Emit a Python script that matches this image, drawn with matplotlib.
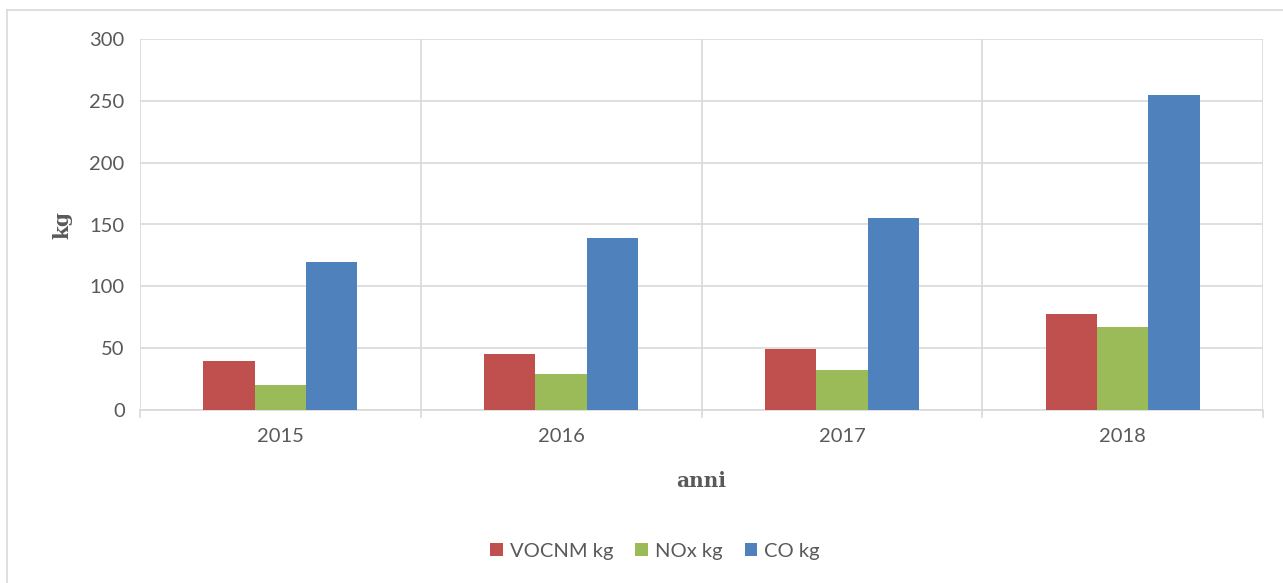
import matplotlib
matplotlib.use("Agg")
import matplotlib.pyplot as plt
import numpy as np
from matplotlib.lines import Line2D

years = ["2015", "2016", "2017", "2018"]
series_names = ["VOCNM kg", "NOx kg", "CO kg"]
vocnm = [40, 45, 49, 78]
nox = [20, 29, 32, 67]
co = [120, 139, 155, 255]
colors = ["#c0504d", "#9bbb59", "#4f81bd"]

W, H = 1283, 583
fig = plt.figure(figsize=(W / 100, H / 100), dpi=100)
ax = fig.add_axes([140 / W, 1 - 410 / H, (1263 - 140) / W, (410 - 39) / H])

x = np.arange(len(years))
bw = 0.183
for i, (vals, name, c) in enumerate(zip([vocnm, nox, co], series_names, colors)):
    ax.bar(x + (i - 1) * bw, vals, width=bw, color=c, label=name, zorder=3)

ax.set_xlim(-0.5, len(years) - 0.5)
ax.set_ylim(0, 300)
ax.set_yticks(range(0, 301, 50))
ax.set_xticks(x)
ax.set_xticklabels(years)
ax.set_xticks(np.arange(-0.5, len(years)), minor=True)

grid_c = "#d9d9d9"
ax.grid(axis="y", color=grid_c, linewidth=1.2, zorder=0)
ax.grid(axis="x", which="minor", color=grid_c, linewidth=1.2, zorder=0)
ax.grid(axis="x", which="major", visible=False)
for s in ["top", "right", "left"]:
    ax.spines[s].set_visible(False)
ax.spines["bottom"].set_color(grid_c)
ax.spines["bottom"].set_linewidth(1.2)

fs = 14.5
ax.tick_params(axis="y", length=0, pad=11, labelcolor="#595959")
ax.tick_params(axis="x", which="major", length=0, pad=13, labelcolor="#595959")
ax.tick_params(axis="x", which="minor", length=6, color=grid_c, width=1.2)
for lab in ax.get_xticklabels() + ax.get_yticklabels():
    lab.set_fontfamily(["Lato", "DejaVu Sans"])
    lab.set_fontsize(fs)

label_font = dict(family=["DejaVu Serif"], weight="bold", size=14.5, color="#595959")
fig.text(62 / W, 1 - 225 / H, "kg", rotation=90, ha="center", va="center", **label_font)
fig.text(701 / W, 1 - 481 / H, "anni", ha="center", va="center", **label_font)

leg = fig.legend(loc="center", bbox_to_anchor=(655 / W, 1 - 551 / H), ncol=3, frameon=False,
                 handlelength=0.62, handleheight=0.62, handletextpad=0.35, columnspacing=1.1,
                 prop={"family": ["Lato", "DejaVu Sans"], "size": 14.5})
for t in leg.get_texts():
    t.set_color("#595959")

# chart area border (left and top edges visible)
fig.add_artist(Line2D([7 / W, 7 / W], [0, 1 - 10 / H], transform=fig.transFigure,
                      color=grid_c, linewidth=1.2))
fig.add_artist(Line2D([7 / W, 1], [1 - 10 / H, 1 - 10 / H], transform=fig.transFigure,
                      color=grid_c, linewidth=1.2))

fig.savefig("out.png", dpi=100)
